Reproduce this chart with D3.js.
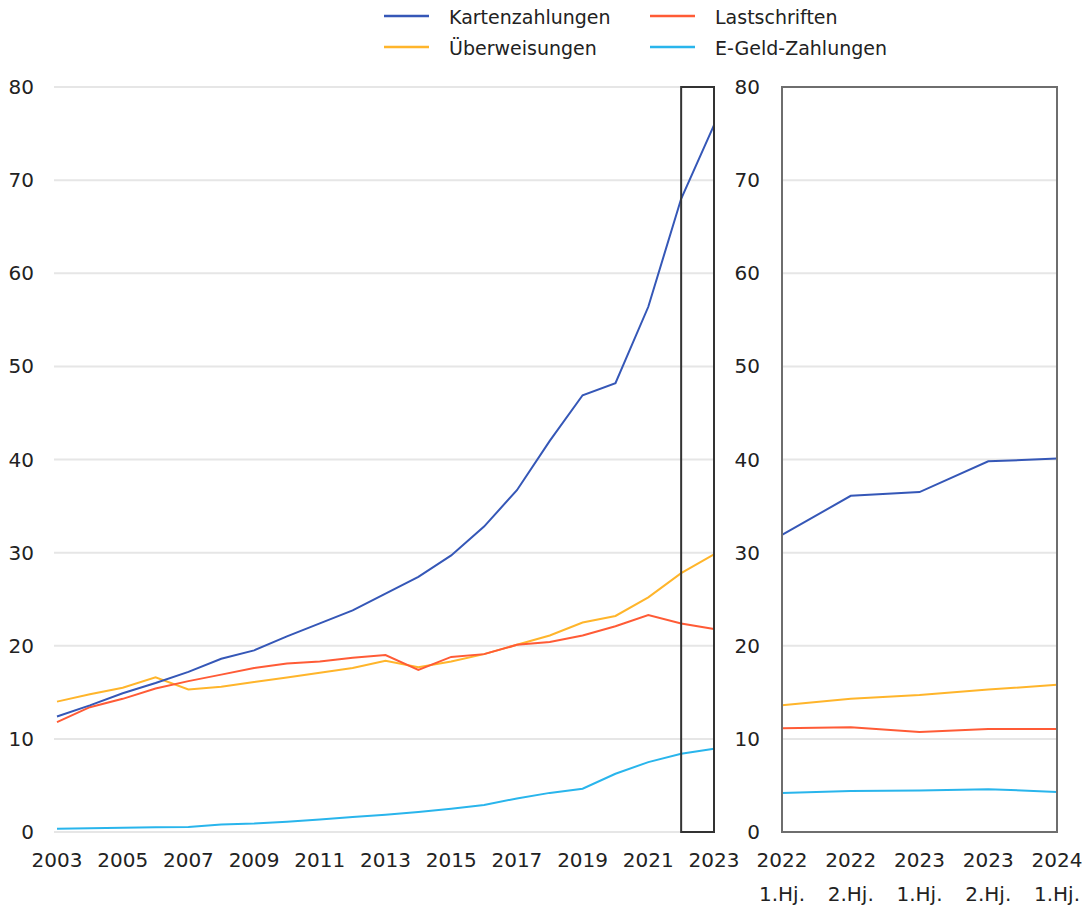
<!DOCTYPE html>
<html>
<head>
<meta charset="utf-8">
<script src="https://cdn.jsdelivr.net/npm/d3@7"></script>
<style>
  body { margin: 0; background: #fff; }
  svg text { font-family: "DejaVu Sans", sans-serif; fill: #222; }
</style>
</head>
<body>
<svg id="chart" width="1089" height="907"></svg>
<script>
// yearly values, 2003..2023
const years = d3.range(2003, 2024);
const karten = [12.4, 13.6, 14.9, 16.0, 17.2, 18.6, 19.5, 21.0, 22.4, 23.8, 25.6, 27.4, 29.7, 32.8, 36.7, 42.0, 46.9, 48.2, 56.4, 68.0, 75.9];
const ueberw = [14.0, 14.8, 15.5, 16.6, 15.3, 15.6, 16.1, 16.6, 17.1, 17.6, 18.4, 17.7, 18.3, 19.1, 20.1, 21.1, 22.5, 23.2, 25.2, 27.8, 29.8];
const lasts  = [11.8, 13.4, 14.3, 15.4, 16.2, 16.9, 17.6, 18.1, 18.3, 18.7, 19.0, 17.4, 18.8, 19.1, 20.1, 20.4, 21.1, 22.1, 23.3, 22.4, 21.8];
const egeld  = [0.35, 0.4, 0.45, 0.5, 0.55, 0.8, 0.9, 1.1, 1.35, 1.6, 1.85, 2.15, 2.5, 2.9, 3.6, 4.2, 4.65, 6.25, 7.5, 8.4, 8.95];

// half-year values
const halfYears = ["2022|1.Hj.", "2022|2.Hj.", "2023|1.Hj.", "2023|2.Hj.", "2024|1.Hj."];
const kartenH = [31.9, 36.1, 36.5, 39.8, 40.1];
const ueberwH = [13.6, 14.3, 14.7, 15.3, 15.8];
const lastsH  = [11.15, 11.25, 10.75, 11.05, 11.05];
const egeldH  = [4.2, 4.4, 4.45, 4.6, 4.3];

const yTicks = [0, 10, 20, 30, 40, 50, 60, 70, 80];
const xTickYears = d3.range(2003, 2024, 2);

const series = [
  { name: "Kartenzahlungen", color: "#3557b7", vals: karten, half: kartenH },
  { name: "Lastschriften", color: "#ff5b36", vals: lasts, half: lastsH },
  { name: "Überweisungen", color: "#ffb52b", vals: ueberw, half: ueberwH },
  { name: "E-Geld-Zahlungen", color: "#29b5ec", vals: egeld, half: egeldH }
];

const svg = d3.select("#chart");
const TOP = 87, BOTTOM = 832;

const y = d3.scaleLinear().domain([0, 80]).range([BOTTOM, TOP]);
const xL = d3.scaleLinear().domain([2003, 2023]).range([57, 714]);
const xR = d3.scalePoint().domain(halfYears).range([782, 1057]);

// gridlines
svg.append("g").selectAll("line").data(yTicks).enter().append("line")
  .attr("x1", 54).attr("x2", 714)
  .attr("y1", d => y(d)).attr("y2", d => y(d))
  .style("stroke", "#e6e6e6").style("stroke-width", 2);
svg.append("g").selectAll("line").data(yTicks).enter().append("line")
  .attr("x1", 782).attr("x2", 1057)
  .attr("y1", d => y(d)).attr("y2", d => y(d))
  .style("stroke", "#e6e6e6").style("stroke-width", 2);

// y labels
svg.append("g").selectAll("text").data(yTicks).enter().append("text")
  .attr("x", 34).attr("y", d => y(d) + 7)
  .attr("text-anchor", "end").style("font-size", "20px")
  .text(d => d);
svg.append("g").selectAll("text").data(yTicks).enter().append("text")
  .attr("x", 760).attr("y", d => y(d) + 7)
  .attr("text-anchor", "end").style("font-size", "20px")
  .text(d => d);

// x labels
svg.append("g").selectAll("text").data(xTickYears).enter().append("text")
  .attr("x", d => xL(d)).attr("y", 867)
  .attr("text-anchor", "middle").style("font-size", "20px")
  .text(d => d);
const xr = svg.append("g").selectAll("text").data(halfYears).enter().append("text")
  .attr("text-anchor", "middle").style("font-size", "20px");
xr.append("tspan").attr("x", d => xR(d)).attr("y", 867).text(d => d.split("|")[0]);
xr.append("tspan").attr("x", d => xR(d)).attr("y", 901).text(d => d.split("|")[1]);

// lines
const lineL = d3.line().x((d, i) => xL(years[i])).y(d => y(d));
const lineR = d3.line().x((d, i) => xR(halfYears[i])).y(d => y(d));

const drawOrder = [series[3], series[2], series[1], series[0]];
drawOrder.forEach(s => {
  svg.append("path").datum(s.vals).attr("d", lineL)
    .style("fill", "none").style("stroke", s.color).style("stroke-width", 2);
  svg.append("path").datum(s.half).attr("d", lineR)
    .style("fill", "none").style("stroke", s.color).style("stroke-width", 2);
});

// highlight box for 2022-2023 and right frame
svg.append("rect")
  .attr("x", xL(2022)).attr("y", TOP)
  .attr("width", xL(2023) - xL(2022)).attr("height", BOTTOM - TOP)
  .style("fill", "none").style("stroke", "#333").style("stroke-width", 2);
svg.append("rect")
  .attr("x", 782).attr("y", TOP)
  .attr("width", 1057 - 782).attr("height", BOTTOM - TOP)
  .style("fill", "none").style("stroke", "#6e6e6e").style("stroke-width", 2);

// legend
const legendPos = [[384, 16], [650, 16], [384, 47], [650, 47]];
const lg = svg.append("g").selectAll("g").data(series).enter().append("g")
  .attr("transform", (d, i) => "translate(" + legendPos[i][0] + "," + legendPos[i][1] + ")");
lg.append("line").attr("x1", 0).attr("x2", 45).attr("y1", 0).attr("y2", 0)
  .style("stroke", d => d.color).style("stroke-width", 2.5);
lg.append("text").attr("x", 65).attr("y", 8).style("font-size", "19px").text(d => d.name);
</script>
</body>
</html>
